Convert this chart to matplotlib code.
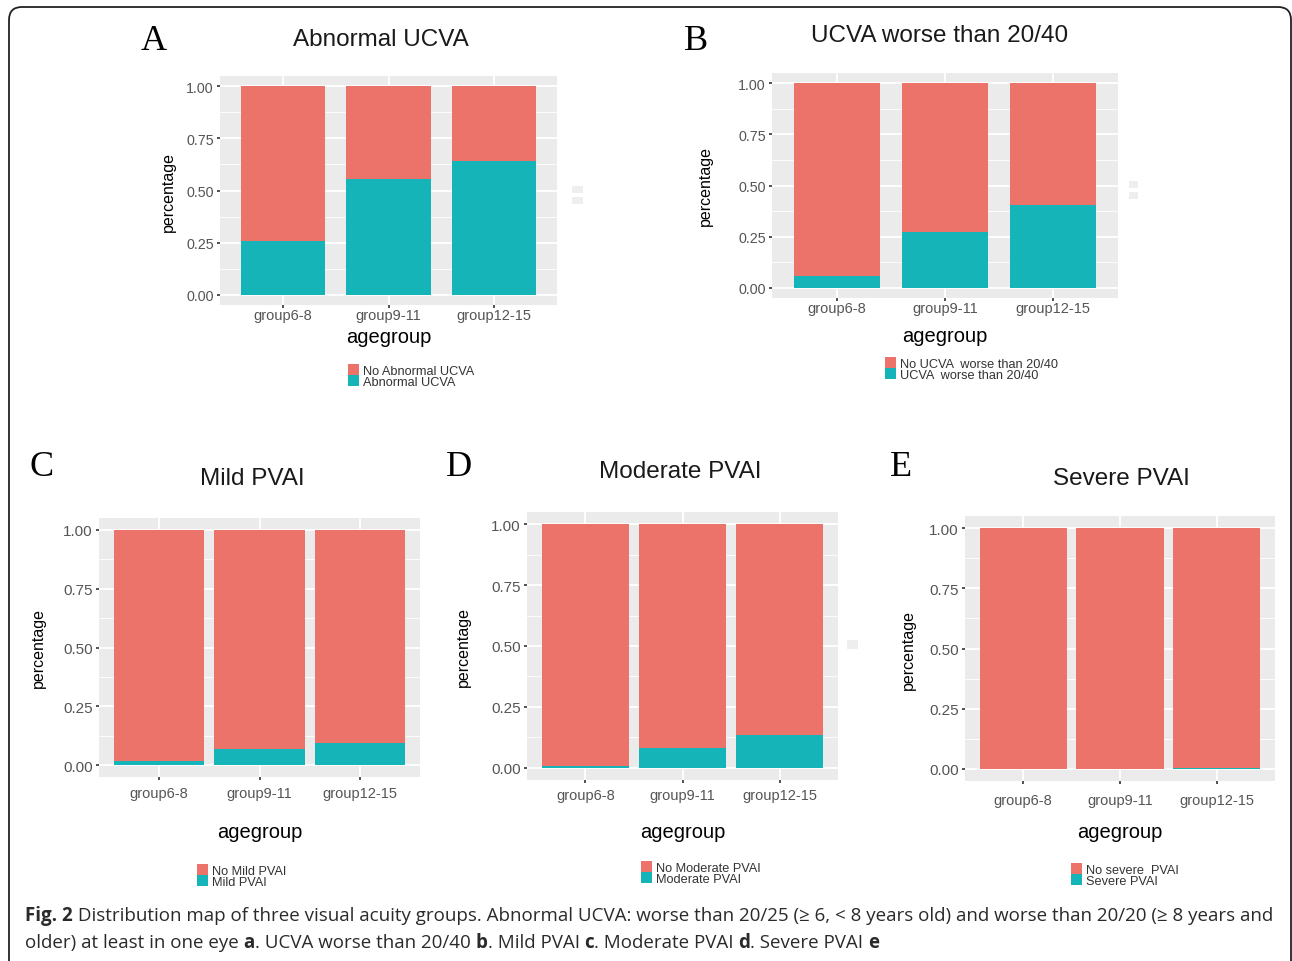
import matplotlib
matplotlib.use('Agg')
import matplotlib.pyplot as plt
from matplotlib.patches import FancyBboxPatch, Rectangle
from matplotlib.ticker import MultipleLocator

W, H = 1292, 962

# Data: share of each age group in the "condition" category
groups = ['group6-8', 'group9-11', 'group12-15']
abnormal_ucva = [0.258, 0.553, 0.640]
ucva_worse_2040 = [0.059, 0.272, 0.404]
mild_pvai = [0.018, 0.071, 0.095]
moderate_pvai = [0.007, 0.080, 0.133]
severe_pvai = [0.000, 0.001, 0.004]

titles = ['Abnormal UCVA', 'UCVA worse than 20/40', 'Mild PVAI', 'Moderate PVAI', 'Severe PVAI']
letters = ['A', 'B', 'C', 'D', 'E']
legend_no = ['No Abnormal UCVA', 'No UCVA  worse than 20/40', 'No Mild PVAI',
             'No Moderate PVAI', 'No severe  PVAI']
legend_yes = ['Abnormal UCVA', 'UCVA  worse than 20/40', 'Mild PVAI',
              'Moderate PVAI', 'Severe PVAI']
values = [abnormal_ucva, ucva_worse_2040, mild_pvai, moderate_pvai, severe_pvai]

RED = '#EB736A'
TEAL = '#15B4B8'
PANEL = '#EBEBEB'

# layout in pixels: panel box (l, t, r, b), bar width, title pos, letter pos,
# ylabel x, xtick pad, xlabel y, legend (x, y top)
layout = [
    dict(box=(220, 77, 557, 306), bw=0.8, title=(381, 40), letter=(154, 42), ylab=168,
         xpad=0, xlab=338, leg=(348, 365), ysize=10.3),
    dict(box=(772, 74, 1118, 299), bw=0.8, title=(940, 36), letter=(696, 42), ylab=705,
         xpad=0, xlab=336, leg=(885, 358), ysize=10.3),
    dict(box=(99, 519, 420, 778), bw=0.9, title=(252, 479), letter=(42, 468), ylab=38,
         xpad=4, xlab=832, leg=(197, 865), ysize=11),
    dict(box=(527, 513, 838, 781), bw=0.9, title=(680, 472), letter=(459, 468), ylab=463,
         xpad=3, xlab=832, leg=(641, 862), ysize=11),
    dict(box=(965, 517, 1275, 782), bw=0.9, title=(1121, 479), letter=(901, 468), ylab=908,
         xpad=6, xlab=832, leg=(1071, 864), ysize=11),
]

plt.rcParams['font.family'] = ['Liberation Sans', 'DejaVu Sans']
fig = plt.figure(figsize=(W / 100, H / 100), dpi=100)


def fx(x):
    return x / W


def fy(y):
    return 1 - y / H


# rounded frame around the figure (inches, from bottom-left)
frame = FancyBboxPatch((0.09, -0.3), 12.82, (H - 8) / 100 + 0.3,
                       boxstyle='round,pad=0,rounding_size=0.13', transform=fig.dpi_scale_trans,
                       fill=False, edgecolor='#222222', linewidth=1.3)
fig.patches.append(frame)

x = [1, 2, 3]
for i, cfg in enumerate(layout):
    l, t, r, b = cfg['box']
    ax = fig.add_axes([fx(l), fy(b), fx(r) - fx(l), fy(t) - fy(b)])
    yes = values[i]
    no = [1 - v for v in yes]
    h_yes = ax.bar(x, yes, width=cfg['bw'], color=TEAL, zorder=3)
    h_no = ax.bar(x, no, bottom=yes, width=cfg['bw'], color=RED, zorder=3)
    ax.set_facecolor(PANEL)
    ax.set_xlim(0.4, 3.6)
    ax.set_ylim(-0.05, 1.05)
    ax.yaxis.set_minor_locator(MultipleLocator(0.125))
    ax.set_xticks(x)
    ax.set_xticklabels(groups)
    ax.set_yticks([0, 0.25, 0.5, 0.75, 1.0])
    ax.set_yticklabels(['0.00', '0.25', '0.50', '0.75', '1.00'])
    ax.grid(True, which='major', color='white', linewidth=1.3, zorder=0)
    ax.grid(True, which='minor', axis='y', color='white', linewidth=0.6, zorder=0)
    ax.set_axisbelow(True)
    for s in ax.spines.values():
        s.set_visible(False)
    ax.tick_params(axis='both', which='major', length=2.5, width=1.2, color='#333333',
                   labelcolor='#555555')
    ax.tick_params(axis='x', pad=cfg['xpad'], labelsize=10.5)
    ax.tick_params(axis='y', pad=2, labelsize=cfg['ysize'])
    ax.tick_params(which='minor', length=0)

    fig.text(fx(cfg['title'][0]), fy(cfg['title'][1]), titles[i], ha='center', va='center',
             fontsize=17.5, color='#1a1a1a')
    fig.text(fx(cfg['letter'][0]), fy(cfg['letter'][1]), letters[i], ha='center', va='center',
             fontsize=26, family='Liberation Serif', color='black')
    fig.text(fx(cfg['ylab']), fy((t + b) / 2), 'percentage', rotation=90, ha='center',
             va='center', fontsize=11.5, color='black')
    fig.text(fx((l + r) / 2), fy(cfg['xlab']), 'agegroup', ha='center', va='center',
             fontsize=14.5, color='black')

    lx, ly = cfg['leg']
    fig.legend([h_no, h_yes], [legend_no[i], legend_yes[i]], loc='upper left',
               bbox_to_anchor=(fx(lx), fy(ly)), frameon=False, fontsize=9.2,
               handlelength=0.85, handleheight=0.9, labelspacing=-0.1, handletextpad=0.35,
               borderpad=0, borderaxespad=0, labelcolor='#333333')

# faint remnants of clipped legend keys beside panels A, B and D
for (rx, ry, rw, rh) in [(572, 187, 11, 7), (572, 198, 11, 7), (1129, 182, 9, 7),
                         (1129, 193, 9, 7), (847, 641, 11, 9)]:
    fig.patches.append(Rectangle((fx(rx), fy(ry + rh)), rw / W, rh / H,
                                 transform=fig.transFigure, color='#EEEEEE', lw=0))

# caption, with bold pieces
cap_font = 'Open Sans'
cap_size = 13.5
line1 = [('Fig. 2', 'bold'),
         (' Distribution map of three visual acuity groups. Abnormal UCVA: worse than 20/25 '
          '(\u2265 6, < 8 years old) and worse than 20/20 (\u2265 8 years and', 'normal')]
line2 = [('older) at least in one eye ', 'normal'), ('a', 'bold'),
         ('. UCVA worse than 20/40 ', 'normal'), ('b', 'bold'),
         ('. Mild PVAI ', 'normal'), ('c', 'bold'),
         ('. Moderate PVAI ', 'normal'), ('d', 'bold'),
         ('. Severe PVAI ', 'normal'), ('e', 'bold')]

renderer = fig.canvas.get_renderer()
for segs, ypix in [(line1, 916), (line2, 943)]:
    xpix = 25
    for txt, wt in segs:
        t_ = fig.text(fx(xpix), fy(ypix), txt, ha='left', va='center', fontsize=cap_size,
                      family=[cap_font, 'DejaVu Sans'], weight=wt, color='#2a2a2a')
        bb = t_.get_window_extent(renderer=renderer)
        xpix += bb.width

fig.savefig('out.png', dpi=100)
